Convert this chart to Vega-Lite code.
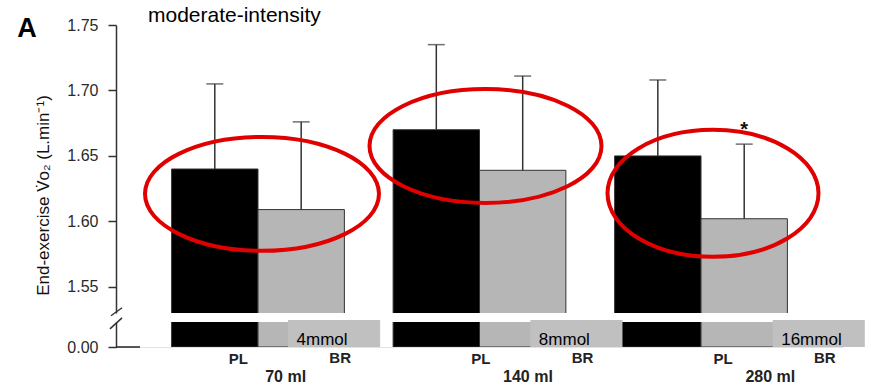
{
  "$schema": "https://vega.github.io/schema/vega-lite/v6.json",
  "background": "white",
  "padding": {"left": 17, "top": 4, "right": 0, "bottom": 0},
  "datasets": {
    "bars": [
      {"group": "70 ml", "cond": "PL", "value": 1.640, "upper": 1.705, "sig": ""},
      {"group": "70 ml", "cond": "BR", "value": 1.609, "upper": 1.676, "sig": ""},
      {"group": "140 ml", "cond": "PL", "value": 1.670, "upper": 1.735, "sig": ""},
      {"group": "140 ml", "cond": "BR", "value": 1.639, "upper": 1.711, "sig": ""},
      {"group": "280 ml", "cond": "PL", "value": 1.650, "upper": 1.708, "sig": ""},
      {"group": "280 ml", "cond": "BR", "value": 1.602, "upper": 1.659, "sig": "*"}
    ],
    "doses": [
      {"group": "70 ml", "dose": "4mmol"},
      {"group": "140 ml", "dose": "8mmol"},
      {"group": "280 ml", "dose": "16mmol"}
    ]
  },
  "config": {
    "font": "Liberation Sans",
    "view": {"stroke": null},
    "axis": {
      "grid": false,
      "domainColor": "#333333",
      "domainWidth": 1.5,
      "tickColor": "#333333",
      "tickWidth": 1.5,
      "tickSize": 8,
      "labelFontSize": 16,
      "labelColor": "#2a2a2a",
      "labelPadding": 10,
      "titleFontSize": 17,
      "titleFontWeight": "normal",
      "titleColor": "#111111",
      "titlePadding": 14
    }
  },
  "spacing": 9,
  "bounds": "flush",
  "vconcat": [
    {
      "width": 727,
      "height": 288,
      "resolve": {"scale": {"x": "independent"}},
      "layer": [
        {
          "data": {"name": "bars"},
          "layer": [
            {
              "mark": {"type": "bar", "clip": true, "stroke": "#333333", "strokeWidth": 1},
              "encoding": {
                "x": {"field": "group", "type": "nominal", "sort": null, "scale": {"type": "band", "domain": ["70 ml", "140 ml", "280 ml"], "paddingInner": 0.22, "paddingOuter": 0.251}, "axis": null},
                "xOffset": {"field": "cond", "type": "nominal", "scale": {"domain": ["PL", "BR"], "paddingInner": 0, "paddingOuter": 0}},
                "y": {"field": "value", "type": "quantitative", "scale": {"domain": [1.53, 1.75], "nice": false, "zero": false}, "axis": {"title": "End-exercise V̇o₂ (L.min⁻¹)", "values": [1.55, 1.6, 1.65, 1.7, 1.75], "format": ".2f", "titleY": 170}},
                "color": {"field": "cond", "type": "nominal", "scale": {"domain": ["PL", "BR"], "range": ["#000000", "#b6b6b6"]}, "legend": null}
              }
            },
            {
              "mark": {"type": "rule", "color": "#333333", "strokeWidth": 1.5},
              "encoding": {
                "x": {"field": "group", "type": "nominal", "axis": null},
                "xOffset": {"field": "cond", "type": "nominal"},
                "y": {"field": "value", "type": "quantitative"},
                "y2": {"field": "upper"}
              }
            },
            {
              "mark": {"type": "tick", "color": "#333333", "size": 17, "thickness": 1.5, "orient": "horizontal"},
              "encoding": {
                "x": {"field": "group", "type": "nominal", "axis": null},
                "xOffset": {"field": "cond", "type": "nominal"},
                "y": {"field": "upper", "type": "quantitative"}
              }
            },
            {
              "transform": [{"filter": "datum.sig == '*'"}],
              "mark": {"type": "text", "fontSize": 20, "fontWeight": "bold", "baseline": "alphabetic", "dy": -8, "color": "#111111"},
              "encoding": {
                "x": {"field": "group", "type": "nominal", "axis": null},
                "xOffset": {"field": "cond", "type": "nominal"},
                "y": {"field": "upper", "type": "quantitative"},
                "text": {"field": "sig"}
              }
            },
            {
              "data": {"values": [{}]},
              "mark": {"type": "point", "shape": "M-1,0A1,0.487,0,1,1,1,0A1,0.487,0,1,1,-1,0Z", "size": 54756, "filled": false, "stroke": "#e00000", "strokeWidth": 4, "opacity": 1, "xOffset": 4},
              "encoding": {
                "x": {"datum": "70 ml", "type": "nominal", "axis": null},
                "y": {"datum": 1.621, "type": "quantitative"}
              }
            },
            {
              "data": {"values": [{}]},
              "mark": {"type": "point", "shape": "M-1,0A1,0.491,0,1,1,1,0A1,0.491,0,1,1,-1,0Z", "size": 53824, "filled": false, "stroke": "#e00000", "strokeWidth": 4, "opacity": 1, "xOffset": 6},
              "encoding": {
                "x": {"datum": "140 ml", "type": "nominal", "axis": null},
                "y": {"datum": 1.6576, "type": "quantitative"}
              }
            },
            {
              "data": {"values": [{}]},
              "mark": {"type": "point", "shape": "M-1,0A1,0.602,0,1,1,1,0A1,0.602,0,1,1,-1,0Z", "size": 44521, "filled": false, "stroke": "#e00000", "strokeWidth": 4, "opacity": 1, "xOffset": 12},
              "encoding": {
                "x": {"datum": "280 ml", "type": "nominal", "axis": null},
                "y": {"datum": 1.6214, "type": "quantitative"}
              }
            }
          ]
        },
        {
          "data": {"values": [{}]},
          "layer": [
            {
              "mark": {"type": "text", "text": "A", "fontSize": 27, "fontWeight": "bold", "align": "left", "baseline": "alphabetic", "color": "#000000"},
              "encoding": {
                "x": {"datum": -0.136, "type": "quantitative", "scale": {"domain": [0, 1], "nice": false, "zero": false}, "axis": null},
                "y": {"datum": 1.7408, "type": "quantitative"}
              }
            },
            {
              "mark": {"type": "text", "text": "moderate-intensity", "fontSize": 21, "align": "left", "baseline": "alphabetic", "color": "#000000"},
              "encoding": {
                "x": {"datum": 0.044, "type": "quantitative", "axis": null},
                "y": {"datum": 1.7523, "type": "quantitative"}
              }
            },
            {
              "mark": {"type": "rule", "color": "#333333", "strokeWidth": 1.5},
              "encoding": {
                "x": {"datum": -0.0069, "type": "quantitative", "axis": null},
                "x2": {"datum": 0.0083},
                "y": {"datum": 1.5279, "type": "quantitative"},
                "y2": {"datum": 1.534}
              }
            },
            {
              "mark": {"type": "rule", "color": "#333333", "strokeWidth": 1.5},
              "encoding": {
                "x": {"datum": -0.0083, "type": "quantitative", "axis": null},
                "x2": {"datum": 0.0083},
                "y": {"datum": 1.5179, "type": "quantitative"},
                "y2": {"datum": 1.5263}
              }
            }
          ]
        }
      ]
    },
    {
      "width": 727,
      "height": 25,
      "resolve": {"scale": {"x": "independent"}},
      "layer": [
        {
          "data": {"name": "bars"},
          "mark": {"type": "bar", "clip": true, "stroke": "#333333", "strokeWidth": 1},
          "encoding": {
            "x": {"field": "group", "type": "nominal", "sort": null, "scale": {"type": "band", "domain": ["70 ml", "140 ml", "280 ml"], "paddingInner": 0.22, "paddingOuter": 0.251}, "axis": {"labels": false, "ticks": false, "title": null, "domainColor": "#e2e2e2", "domainWidth": 1}},
            "xOffset": {"field": "cond", "type": "nominal", "scale": {"domain": ["PL", "BR"], "paddingInner": 0, "paddingOuter": 0}},
            "y": {"field": "value", "type": "quantitative", "scale": {"domain": [0, 1.5], "nice": false}, "axis": {"title": null, "values": [0], "format": ".2f"}},
            "color": {"field": "cond", "type": "nominal", "scale": {"domain": ["PL", "BR"], "range": ["#000000", "#b6b6b6"]}, "legend": null}
          }
        },
        {
          "layer": [
            {
              "data": {"name": "doses"},
              "mark": {"type": "rect", "color": "#c0c0c0"},
              "encoding": {
                "x": {"field": "group", "type": "nominal", "bandPosition": 0.71, "scale": {"type": "band", "domain": ["70 ml", "140 ml", "280 ml"], "paddingInner": 0, "paddingOuter": 0}, "axis": null},
                "x2": {"field": "group", "bandPosition": 1.09},
                "y": {"datum": 0, "type": "quantitative"},
                "y2": {"datum": 1.62}
              }
            },
            {
              "data": {"name": "doses"},
              "mark": {"type": "text", "fontSize": 17, "align": "left", "baseline": "alphabetic", "dy": -2, "color": "#000000"},
              "encoding": {
                "x": {"field": "group", "type": "nominal", "bandPosition": 0.745, "scale": {"type": "band", "domain": ["70 ml", "140 ml", "280 ml"], "paddingInner": 0, "paddingOuter": 0}, "axis": null},
                "y": {"datum": 0, "type": "quantitative"},
                "text": {"field": "dose"}
              }
            },
            {
              "data": {"name": "bars"},
              "transform": [{"filter": "datum.cond == 'PL'"}],
              "mark": {"type": "text", "fontSize": 15, "fontWeight": "bold", "baseline": "top", "dy": 5, "color": "#222222"},
              "encoding": {
                "x": {"field": "group", "type": "nominal", "bandPosition": 0.505, "scale": {"type": "band", "domain": ["70 ml", "140 ml", "280 ml"], "paddingInner": 0, "paddingOuter": 0}, "axis": null},
                "y": {"datum": 0, "type": "quantitative"},
                "text": {"field": "cond"}
              }
            },
            {
              "data": {"name": "bars"},
              "transform": [{"filter": "datum.cond == 'BR'"}],
              "mark": {"type": "text", "fontSize": 15, "fontWeight": "bold", "baseline": "top", "dy": 4, "color": "#222222"},
              "encoding": {
                "x": {"field": "group", "type": "nominal", "bandPosition": 0.925, "scale": {"type": "band", "domain": ["70 ml", "140 ml", "280 ml"], "paddingInner": 0, "paddingOuter": 0}, "axis": null},
                "y": {"datum": 0, "type": "quantitative"},
                "text": {"field": "cond"}
              }
            },
            {
              "data": {"name": "bars"},
              "transform": [{"filter": "datum.cond == 'PL'"}],
              "mark": {"type": "text", "fontSize": 16, "fontWeight": "bold", "baseline": "top", "dy": 22, "color": "#222222"},
              "encoding": {
                "x": {"field": "group", "type": "nominal", "bandPosition": 0.7, "scale": {"type": "band", "domain": ["70 ml", "140 ml", "280 ml"], "paddingInner": 0, "paddingOuter": 0}, "axis": null},
                "y": {"datum": 0, "type": "quantitative"},
                "text": {"field": "group"}
              }
            }
          ]
        },
        {
          "data": {"values": [{}]},
          "mark": {"type": "rule", "color": "#222222", "strokeWidth": 1.5},
          "encoding": {
            "x": {"datum": 0, "type": "quantitative", "scale": {"domain": [0, 1], "nice": false, "zero": false}, "axis": null},
            "x2": {"datum": 0.033},
            "y": {"datum": 0, "type": "quantitative"}
          }
        }
      ]
    }
  ]
}
